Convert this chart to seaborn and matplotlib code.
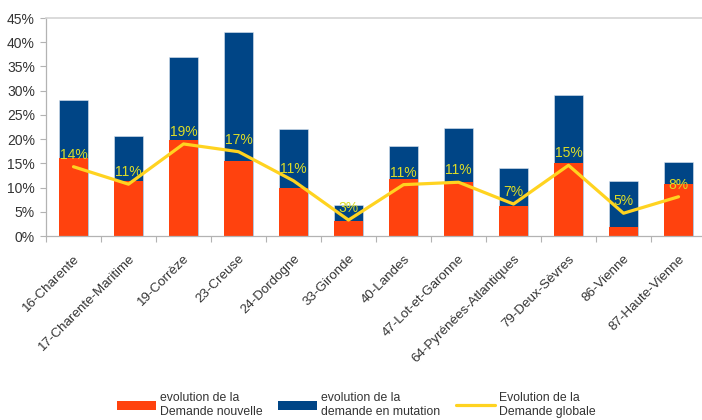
import numpy as np
import pandas as pd
import matplotlib
matplotlib.use("Agg")
import matplotlib.pyplot as plt
import seaborn as sns
from matplotlib.patches import Patch
from matplotlib.lines import Line2D
from matplotlib.ticker import FuncFormatter, FixedLocator

departements = [
    "16-Charente", "17-Charente-Maritime", "19-Corrèze", "23-Creuse",
    "24-Dordogne", "33-Gironde", "40-Landes", "47-Lot-et-Garonne",
    "64-Pyrénées-Atlantiques", "79-Deux-Sèvres", "86-Vienne", "87-Haute-Vienne",
]
# evolution in percent
demande_nouvelle = [16.0, 11.4, 19.8, 15.4, 10.0, 3.0, 11.7, 11.1, 6.1, 15.1, 1.8, 10.7]
demande_mutation = [12.1, 9.2, 17.2, 26.8, 12.1, 3.5, 6.9, 11.1, 7.9, 14.1, 9.6, 4.5]
demande_globale = [14.3, 10.7, 19.0, 17.4, 11.4, 3.3, 10.6, 11.1, 6.6, 14.6, 4.7, 8.1]

legend_labels = [
    "evolution de la\nDemande nouvelle",
    "evolution de la\ndemande en mutation",
    "Evolution de la\nDemande globale",
]

ORANGE = "#ff420e"
BLUE = "#004586"
YELLOW = "#ffd320"
LABEL_COL = "#dcdc28"
TEXT_COL = "#333333"
AXIS_COL = "#b3b3b3"

df = pd.DataFrame({
    "dep": departements,
    "nouvelle": demande_nouvelle,
    "mutation": demande_mutation,
    "globale": demande_globale,
})
df["total"] = df["nouvelle"] + df["mutation"]

sns.set_theme(style="white")
plt.rcParams["font.family"] = ["Liberation Sans", "DejaVu Sans"]

fig = plt.figure(figsize=(7.02, 4.20), dpi=100)
ax = fig.add_axes([46 / 702, 1 - 236 / 420, 660 / 702, 218 / 420])

sns.barplot(data=df, x="dep", y="total", color=BLUE, width=0.51,
            saturation=1, ax=ax, edgecolor="#dde6f0", linewidth=0.4)
sns.barplot(data=df, x="dep", y="nouvelle", color=ORANGE, width=0.51,
            saturation=1, ax=ax, linewidth=0)

xpos = np.arange(len(df))
sns.lineplot(x=xpos, y=df["globale"].values, color=YELLOW, linewidth=2.3,
             ax=ax, zorder=5)
for x, v in zip(xpos, df["globale"]):
    ax.annotate(f"{v:.0f}%", (x, v), xytext=(0, 8.5), textcoords="offset points",
                ha="center", va="center", fontsize=10, color=LABEL_COL, zorder=6)

ax.set_xlim(-0.5, len(df) - 0.5)
ax.set_ylim(0, 45)
ax.set_yticks(np.arange(0, 46, 5))
ax.yaxis.set_major_formatter(FuncFormatter(lambda v, p: f"{v:.0f}%"))
ax.set_xlabel("")
ax.set_ylabel("")

ax.set_xticks(xpos)
ax.set_xticklabels(departements, rotation=45, ha="right",
                   rotation_mode="anchor", fontsize=9.6, color=TEXT_COL)
ax.xaxis.set_minor_locator(FixedLocator(np.arange(-0.5, len(df), 1.0)))
ax.tick_params(axis="x", which="major", length=0, pad=12)
ax.tick_params(axis="x", which="minor", length=4, width=0.8,
               color=AXIS_COL, direction="out", bottom=True)
ax.tick_params(axis="y", length=4, width=0.8, color=AXIS_COL, pad=4,
               labelsize=10, labelcolor=TEXT_COL, left=True)

for side in ("left", "bottom"):
    ax.spines[side].set_color(AXIS_COL)
    ax.spines[side].set_linewidth(0.9)
ax.spines["top"].set_visible(True)
ax.spines["top"].set_color("#d4d4d4")
ax.spines["top"].set_linewidth(1.2)
ax.spines["right"].set_visible(False)
ax.grid(False)

handles = [
    Patch(facecolor=ORANGE, edgecolor="none"),
    Patch(facecolor=BLUE, edgecolor="none"),
    Line2D([0], [0], color=YELLOW, linewidth=2.3),
]
fig.legend(handles, legend_labels, loc="center", bbox_to_anchor=(356 / 702, 1 - 405 / 420),
           ncol=3, frameon=False, fontsize=8.8, handlelength=3.2,
           handleheight=0.8, handletextpad=0.3, columnspacing=1.3,
           labelcolor=TEXT_COL, labelspacing=0.2)

fig.savefig("out.png", dpi=100)
